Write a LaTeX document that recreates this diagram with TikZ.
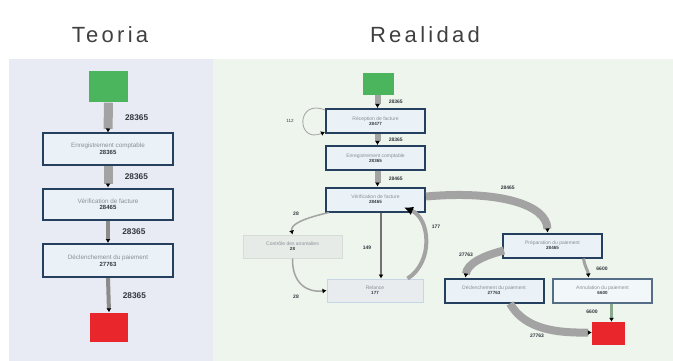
\documentclass[tikz,border=0pt]{standalone}
\usepackage{fontspec}
\setmainfont{Liberation Sans}
\usetikzlibrary{arrows.meta,calc}

\definecolor{paneA}{HTML}{E9EBF4}
\definecolor{paneB}{HTML}{EEF5EC}
\definecolor{boxline}{HTML}{24405E}
\definecolor{boxfill}{HTML}{EAF1F7}
\definecolor{flowgray}{HTML}{A3A3A3}
\definecolor{startgreen}{HTML}{4BB55E}
\definecolor{endred}{HTML}{E8262B}
\definecolor{labelgray}{HTML}{8A8F96}
\definecolor{numdark}{HTML}{333840}
\definecolor{paleline}{HTML}{D6DCD6}
\definecolor{palefill}{HTML}{E7EBE7}
\definecolor{paleblue}{HTML}{C6D6E6}
\definecolor{relfill}{HTML}{E8ECEE}

\tikzset{
  actbox/.style={draw=boxline, line width=2pt, fill=boxfill, align=center,
    inner sep=0pt, minimum width=#1, font=\fontsize{5}{6}\selectfont},
  actbox/.default=99pt,
  palebox/.style={draw=paleline, line width=1pt, fill=palefill, align=center,
    inner sep=0pt, minimum width=99pt, minimum height=23pt, font=\fontsize{5}{6}\selectfont},
  startbox/.style={fill=startgreen, inner sep=0pt},
  endbox/.style={fill=endred, inner sep=0pt},
  flow/.style={draw=flowgray, line width=#1,
    -{Latex[length=4pt,width=5pt,color=black]}},
  flow/.default=1.5pt,
  cntL/.style={font=\fontsize{8.3}{9}\selectfont\bfseries, text=numdark},
  cntR/.style={font=\fontsize{5}{6}\selectfont\bfseries, text=numdark},
  ttl/.style={font=\fontsize{22}{24}\selectfont\addfontfeature{LetterSpace=15},
    text=black!75},
}
% activity text: name in grey, count in bold
\newcommand{\actL}[2]{{\fontsize{6.3}{7}\selectfont\color{labelgray}#1}\\[-0.5pt]{\fontsize{6}{7}\selectfont\bfseries\color{numdark}#2}}
\newcommand{\actR}[2]{{\fontsize{5}{6}\selectfont\color{labelgray}#1}\\[-0.8pt]{\fontsize{4.5}{5}\selectfont\bfseries\color{numdark}#2}}

\begin{document}
\begin{tikzpicture}[x=1pt,y=-1pt]
\useasboundingbox (0,0) rectangle (673,361);
\fill[white] (0,0) rectangle (673,361);

% panels
\fill[paneA] (9,59) rectangle (213,361);
\fill[paneB] (213,59) rectangle (673,361);

% titles
\node[ttl] (tA) at (110,35) {Teoria};
\node[ttl] (tB) at (425,35) {Realidad};

% ---------- theory ----------
\node[startbox, minimum width=39pt, minimum height=31pt] (gL) at (108.5,87) {};
\node[actbox=130pt, minimum height=31pt, font=\fontsize{6.3}{7}\selectfont] (L1) at (108,149) {\actL{Enregistrement comptable}{28365}};
\node[actbox=130pt, minimum height=31pt, font=\fontsize{6.3}{7}\selectfont] (L2) at (108,204) {\actL{Vérification de facture}{28465}};
\node[actbox=130pt, minimum height=33pt, font=\fontsize{6.3}{7}\selectfont] (L3) at (108,260.5) {\actL{Déclenchement du paiement}{27763}};
\node[endbox, minimum width=38pt, minimum height=29pt] (rL) at (109,327) {};

\draw[flow=9pt] (gL.south) -- (L1.north) node[cntL, midway, right=9pt] {28365};
\draw[flow=9pt] (L1.south) -- (L2.north) node[cntL, midway, right=9pt] {28365};
\draw[flow=4pt, draw=flowgray!85!black] (L2.south) -- (L3.north) node[cntL, midway, right=9pt] {28365};
\draw[flow=4pt, draw=flowgray!85!black] (L3.south) -- (rL.north) node[cntL, midway, right=9pt] {28365};

% ---------- reality ----------
\node[startbox, minimum width=31pt, minimum height=22pt] (gR) at (378.5,84) {};
\node[actbox, minimum height=24pt] (R1) at (375.5,121) {\actR{Réception de facture}{28477}};
\node[actbox, minimum height=24pt] (R2) at (375.5,158) {\actR{Enregistrement comptable}{28365}};
\node[actbox, minimum height=24pt] (R3) at (375.5,199.5) {\actR{Vérification de facture}{28465}};
\node[palebox] (C1) at (292.5,246.5) {\actR{Contrôle des anomalies}{28}};
\node[palebox, draw=paleblue, fill=relfill, minimum width=96pt] (C2) at (375,290.5) {\actR{Relance}{177}};
\node[actbox, minimum height=24pt] (R4) at (552.5,245.5) {\actR{Préparation du paiement}{28465}};
\node[actbox, minimum height=24pt] (R5) at (494,290.5) {\actR{Déclenchement du paiement}{27763}};
\node[actbox, minimum height=24pt, fill=boxfill!60!white, draw=boxline!70!paleblue] (R6) at (602.5,290.5) {\actR{Annulation du paiement}{6600}};
\node[endbox, minimum width=33pt, minimum height=23pt] (rR) at (608.5,333.5) {};

% main path
\draw[flow=6pt] ($(gR.south)+(-1,0)$) -- ($(R1.north)+(2,0)$) node[cntR, midway, right=5pt] {28365};
\draw[flow=6pt] ($(R1.south)+(2,0)$) -- ($(R2.north)+(2,0)$) node[cntR, midway, right=5pt] {28365};
\draw[flow=6pt] ($(R2.south)+(2,0)$) -- ($(R3.north)+(2,0)$) node[cntR, midway, right=5pt] {28465};

% self loop on reception
\draw[flow=0.8pt] ($(R1.north west)+(0,2)$) .. controls (296,98) and (296,144) .. ($(R1.south west)+(0,-2)$);
\node[cntR, font=\fontsize{4.5}{5}\selectfont] (l0) at (290,121) {112};

% verification -> preparation
\draw[flow=8pt] ($(R3.east)+(0,-3)$) .. controls (500,190) and (547,205) .. ($(R4.north)+(-5,0)$)
  node[cntR, pos=0.45, above=3pt] {28465};

% preparation -> payment / cancellation
\draw[flow=8pt] ($(R4.west)+(2,5)$) .. controls (482,256) and (467,264) .. ($(R5.north west)+(22,0)$);
\node[cntR] (l27a) at (466,255) {27763};
\draw[flow=3pt] ($(R4.south)+(31,0)$) .. controls (585,268) and (588,270) .. ($(R6.north)+(-14,0)$);
\node[cntR] (l66a) at (602,269) {6600};

% exits
\draw[flow=3pt, draw=flowgray!70!startgreen] ($(R6.south)+(9,0)$) -- ($(rR.north)+(3,0)$);
\node[cntR] (l66b) at (592,312) {6600};
\draw[flow=8pt] ($(R5.south)+(16,0)$) .. controls (525,330) and (558,333) .. ($(rR.west)+(0,-1)$);
\node[cntR] (l27b) at (537,336) {27763};

% rework loop
\draw[flow=1.5pt] ($(R3.south west)+(4,0)$) .. controls (305,218) and (290,224) .. (C1.north);
\node[cntR] (l28a) at (296,214) {28};
\draw[flow=1.5pt] (C1.south) .. controls (292,284) and (308,293) .. (C2.west);
\node[cntR] (l28b) at (296,297) {28};
\draw[flow=1.2pt, draw=flowgray!70!black] ($(R3.south)+(5.5,0)$) -- ($(C2.north)+(6,0)$);
\node[cntR] (l149) at (367,248) {149};
\draw[draw=flowgray, line width=4pt, -{Latex[length=9pt,width=9pt,color=black]}]
  ($(C2.north east)+(-16,0)$) .. controls (434,262) and (430,218) .. ($(R3.south east)+(-22,-5)$);
\node[cntR] (l177) at (436,227) {177};
\end{tikzpicture}
\end{document}
